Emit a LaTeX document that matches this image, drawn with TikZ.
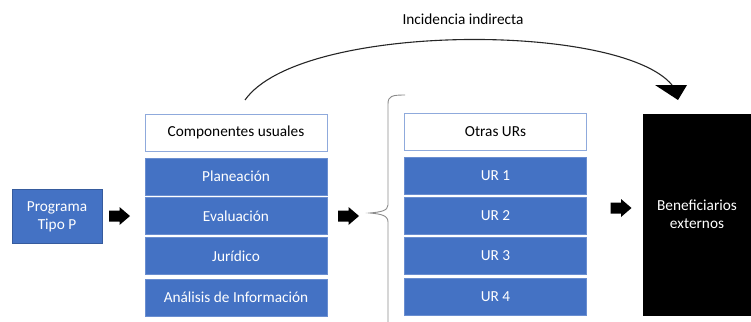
\documentclass[tikz,border=0pt]{standalone}
\usepackage{fontspec}
\setmainfont{Carlito}
\definecolor{URBLUE}{HTML}{4472C4}
\definecolor{URLINE}{HTML}{8FAADC}
\tikzset{
BOX/.style ={draw=URLINE!50!URBLUE, fill=URBLUE, text=white, line width=0.6pt, inner sep=0pt, outer sep=0pt, minimum width=182pt, minimum height=37pt},
HEADBOX/.style ={BOX, fill=white, text=black, draw=URLINE, line width=1pt},
FATARROW/.pic ={\fill[black] (-10.5,-5.5) -- (0,-5.5) -- (0,-9) -- (10.5,0) -- (0,9) -- (0,5.5) -- (-10.5,5.5) -- cycle;},
BRACE/.style ={draw=black!45, line width=0.9pt},
ARC/.style ={draw=black!85, line width=1.1pt},
}

\begin{document}
\begin{tikzpicture} %Incidencia de un programa tipo P
[x=1pt, y=-1pt, font=\fontsize{15.3}{18}\selectfont]
	\useasboundingbox (0,0) rectangle (751,321);
	\node[BOX, minimum width=90pt, minimum height=54pt, draw=URBLUE!80!black, align=center] (programa) at (57,216.5) {Programa\\Tipo P};
	\pic (flechaA) at (119.5,216) {FATARROW};
	% componentes usuales
	\node[HEADBOX] (usuales) at (236,132.5) {Componentes usuales};
	\node[BOX] (planeacion) at (236,176.5) {Planeación};
	\node[BOX] (evaluacion) at (236,216) {Evaluación};
	\node[BOX] (juridico) at (236,256) {Jurídico};
	\node[BOX] (analisis) at (236,297.5) {Análisis de Información};
	\pic (flechaB) at (348.5,216) {FATARROW};
	% llave
	\path[BRACE] (405,95) .. controls (392,95) and (388,96) .. (388,104) -- (388,205)
		.. controls (388,211) and (380,212) .. (370,213)
		.. controls (380,214) and (388,215) .. (388,222) -- (388,330);
	% otras URs
	\node[HEADBOX] (otras) at (495.5,132) {Otras URs};
	\node[BOX] (urA) at (495.5,176) {UR 1};
	\node[BOX] (urB) at (495.5,215.5) {UR 2};
	\node[BOX] (urC) at (495.5,255.5) {UR 3};
	\node[BOX] (urD) at (495.5,296.5) {UR 4};
	\pic (flechaC) at (621,208) {FATARROW};
	\node[BOX, fill=black, draw=black, minimum width=108pt, minimum height=201pt, align=center] (beneficiarios) at (697,214.5) {Beneficiarios\\externos};
	% incidencia indirecta
	\coordinate (arcini) at (245,100);
	\coordinate (arcbase) at (672,85);
	\coordinate (arcfin) at (678,100);
	\path[ARC] (arcini) .. controls (300,22) and (620,22) .. (arcbase);
	\fill[black] (655,85) -- (687,85) -- (arcfin) -- cycle;
	\node (incidencia) at (463,19) {Incidencia indirecta};
\end{tikzpicture}
\end{document}
